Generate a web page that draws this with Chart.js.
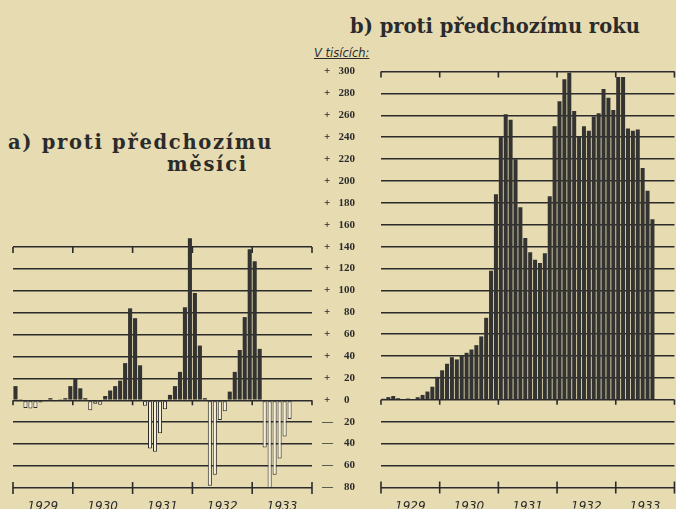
<!DOCTYPE html>
<html lang="cs">
<head>
<meta charset="utf-8">
<script src="https://cdn.jsdelivr.net/npm/chart.js@4.4.1/dist/chart.umd.min.js"></script>
<style>
  html, body { margin: 0; padding: 0; background: #e7dbb2; }
  body { width: 676px; height: 509px; position: relative; overflow: hidden;
         font-family: 'DejaVu Serif', serif; color: #2b2b2b; }
  .titulek { position: absolute; font-size: 19.5px; font-weight: bold; white-space: nowrap; }
  .titulekA { letter-spacing: 1.7px; }
  .box { position: absolute; }
  #jednotky { position: absolute; left: 314px; top: 46px; font: italic 11.5px 'DejaVu Sans', sans-serif;
              text-decoration: underline; }
</style>
</head>
<body>
<div class="titulek" style="left:350px; top:15px">b) proti předchozímu roku</div>
<div class="titulek titulekA" style="left:8px; top:131px">a) proti předchozímu</div>
<div class="titulek titulekA" style="left:167px; top:153px">měsíci</div>
<div id="jednotky">V tisících:</div>

<div class="box" style="left:0; top:237px; width:320px; height:272px"><canvas id="chartMesic"></canvas></div>
<div class="box" style="left:300px; top:39px; width:376px; height:481px"><canvas id="chartRok"></canvas></div>

<script>
/* ── DATA ───────────────────────────────────────────── */
const roky = ['1929', '1930', '1931', '1932', '1933'];
const mesice = ['I', 'II', 'III', 'IV', 'V', 'VI', 'VII', 'VIII', 'IX', 'X', 'XI', 'XII'];

// a) změna proti předchozímu měsíci (v tisících), leden 1929 – srpen 1933
const zmenaMesic = [
  13, 1, -7, -7.5, -7, -2, -1, 2, -1, 1, 2, 13,
  20, 11, 2, -9, -3, -4, 4, 9, 13, 18, 34, 84,
  75, 32, -5, -44, -47, -30, -8, 5, 13, 26, 85, 148,
  98, 50, 2, -78, -68, -18, -10, 8, 26, 46, 76, 138,
  127, 47, -43, -80, -68, -53, -33, -17,
];

// b) změna proti témuž měsíci předchozího roku (v tisících)
const zmenaRok = [
  1, 2.5, 3.5, 1.5, 0.6, 1.2, 0.6, 2.4, 4.5, 7.6, 12, 21,
  27, 33, 39, 37, 41, 43, 46, 50, 58, 75, 118, 188,
  241, 261, 256, 220, 176, 148, 135, 128, 125, 134, 186, 250,
  273, 293, 299, 264, 241, 250, 246, 259, 262, 284, 276, 265,
  295, 295, 248, 246, 247, 212, 191, 165,
];

const osaMesicMax = 140;
const osaRokMax = 300;
const osaMin = -80;
const krok = 20;

/* ── STYL ───────────────────────────────────────────── */
const barvaCar = '#2b2b2b';
const barvaSloupce = '#333331';
const barvaZaporne = '#f4efdc';
const pismoCisla = { family: 'Liberation Serif', size: 11, weight: 'bold' };
const pismoRoky = { family: 'DejaVu Sans', size: 12, style: 'italic' };

const popisky = roky.flatMap(r => mesice.map(m => m + '/' + r));

/* popisek osy: znaménko vlevo, číslo zarovnané vpravo (2 mezery = 1 číslice),
   nula stojí ve sloupci desítek */
function popisekOsy(v) {
  const cislo = v === 0 ? '0  ' : String(Math.abs(v));
  const delka = v === 0 ? 2 : cislo.length;
  const mezery = ' '.repeat(3 + 2 * (3 - delka));
  return v >= 0 ? '+' + mezery + cislo : '—' + mezery.slice(1) + cislo;
}

/* značky roků na horní, nulové a spodní čáře */
const znackyRoku = {
  id: 'znackyRoku',
  afterDatasetsDraw(chart) {
    const { ctx, scales: { x, y } } = chart;
    const yTop = y.getPixelForValue(y.max);
    const y0 = y.getPixelForValue(0);
    const yMin = y.getPixelForValue(y.min);
    ctx.save();
    ctx.strokeStyle = barvaCar;
    ctx.lineWidth = 1.6;
    for (let k = 0; k <= roky.length; k++) {
      const px = x.left + (x.right - x.left) * k / roky.length;
      ctx.beginPath();
      ctx.moveTo(px, yTop); ctx.lineTo(px, yTop + 6);
      ctx.moveTo(px, y0); ctx.lineTo(px, y0 + 5);
      ctx.moveTo(px, yMin - 6); ctx.lineTo(px, yMin + 6);
      ctx.stroke();
    }
    ctx.restore();
  },
};

function osaX() {
  return {
    type: 'category',
    labels: popisky,
    grid: { display: false },
    border: { display: false },
    ticks: {
      autoSkip: false,
      maxRotation: 0,
      padding: 4,
      labelOffset: -2.5,
      color: barvaCar,
      font: pismoRoky,
      callback: (v, i) => (i % 12 === 6 ? roky[(i - 6) / 12] : ''),
    },
    afterFit: s => { s.height = 21; },
  };
}

function sloupce(data, obrysZaporne) {
  return {
    data: data,
    yAxisID: 'y',
    clip: false,
    barPercentage: 0.82,
    categoryPercentage: 1,
    backgroundColor: c => (c.raw < 0 && obrysZaporne ? barvaZaporne : barvaSloupce),
    borderColor: barvaCar,
    borderWidth: c => (c.raw < 0 && obrysZaporne ? 1 : 0),
    borderSkipped: false,
  };
}

/* ── a) PROTI PŘEDCHOZÍMU MĚSÍCI ─────────────────────── */
new Chart(document.getElementById('chartMesic'), {
  type: 'bar',
  data: { labels: popisky, datasets: [sloupce(zmenaMesic, true)] },
  options: {
    responsive: true,
    maintainAspectRatio: false,
    animation: false,
    layout: { padding: { left: 13, right: 8, top: 10, bottom: 0 } },
    plugins: { legend: { display: false }, tooltip: { enabled: false } },
    scales: {
      x: osaX(),
      y: {
        min: osaMin,
        max: osaMesicMax,
        ticks: { display: false, stepSize: krok },
        grid: { color: barvaCar, lineWidth: 1.6, drawTicks: false },
        border: { display: false },
        afterFit: s => { s.width = 0; },
      },
    },
  },
  plugins: [znackyRoku],
});

/* ── b) PROTI PŘEDCHOZÍMU ROKU ───────────────────────── */
// pozn.: ticks.padding osy y se v Chart.js přičítá i k hornímu/dolnímu okraji,
// proto je plátno posunuté výš a sahá pod okraj stránky;
// popisky se ořezávají na šířku osy, proto je osa široká 62 px
new Chart(document.getElementById('chartRok'), {
  type: 'bar',
  data: { labels: popisky, datasets: [sloupce(zmenaRok, false)] },
  options: {
    responsive: true,
    maintainAspectRatio: false,
    animation: false,
    layout: { padding: { left: 19, right: 0, top: 0, bottom: 0 } },
    plugins: { legend: { display: false }, tooltip: { enabled: false } },
    scales: {
      x: osaX(),
      y: {
        position: 'left',
        min: osaMin,
        max: osaRokMax,
        ticks: {
          stepSize: krok,
          padding: 26,
          color: barvaCar,
          font: pismoCisla,
          callback: popisekOsy,
        },
        grid: { color: barvaCar, lineWidth: 1.6, drawTicks: false },
        border: { display: false },
        afterFit: s => { s.width = 62; },
      },
    },
  },
  plugins: [znackyRoku],
});
</script>
</body>
</html>
